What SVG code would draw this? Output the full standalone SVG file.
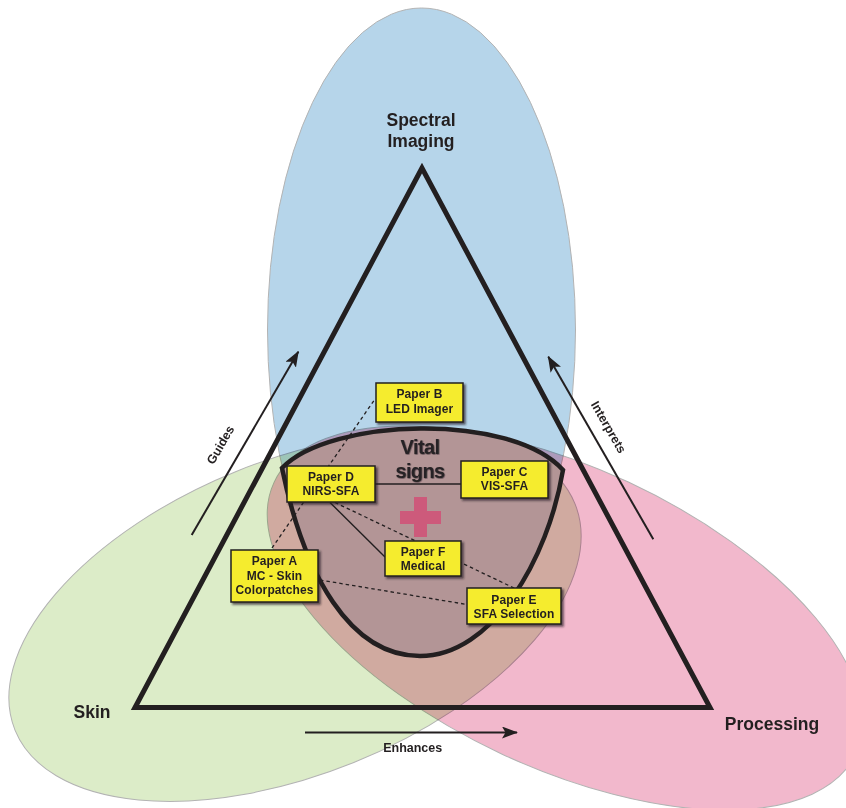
<svg xmlns="http://www.w3.org/2000/svg" width="846" height="808" viewBox="0 0 846 808">
<style>
.ell{stroke:#b3b3b3;stroke-width:1;mix-blend-mode:multiply}
.lbl{font-family:"Liberation Sans",Arial,sans-serif;font-weight:700;fill:#231f20;text-anchor:middle}
.big{font-size:17.5px}
.box rect{fill:#f5ec2e;stroke:#231f20;stroke-width:1.5;filter:url(#sh)}
.box text{font-family:"Liberation Sans",Arial,sans-serif;font-weight:700;font-size:12px;fill:#231f20;text-anchor:middle;letter-spacing:0.1px}
.solid{stroke:#231f20;stroke-width:1.4;fill:none}
.dash{stroke:#231f20;stroke-width:1.3;fill:none;stroke-dasharray:3.5 3}
.arr{stroke:#231f20;stroke-width:2;fill:none;marker-end:url(#ah)}
</style>
<defs>
<filter id="sh" x="-20%" y="-20%" width="150%" height="160%">
<feDropShadow dx="2" dy="2" stdDeviation="1.3" flood-color="#231f20" flood-opacity="0.7"/>
</filter>
<filter id="ts" x="-20%" y="-30%" width="140%" height="160%">
<feDropShadow dx="0.6" dy="0.6" stdDeviation="0.7" flood-color="#231f20" flood-opacity="0.7"/>
</filter>
<marker id="ah" viewBox="0 0 16 12" refX="15" refY="6" markerWidth="16" markerHeight="12" markerUnits="userSpaceOnUse" orient="auto">
<path d="M0,0 L16,6 L0,12 L3.5,6 Z" fill="#231f20"/>
</marker>
</defs>
<rect width="846" height="808" fill="#ffffff"/>
<g id="sets" style="isolation:isolate">
<ellipse id="spectral-imaging-set" class="ell" cx="421.5" cy="330" rx="154" ry="322" fill="#b6d5ea"/>
<ellipse id="skin-set" class="ell" cx="295" cy="617" rx="302" ry="157" transform="rotate(-22 295 617)" fill="#dcecc8"/>
<ellipse id="processing-set" class="ell" cx="565" cy="618" rx="321" ry="150" transform="rotate(25 565 618)" fill="#f2b8cc"/>
</g>
<polygon id="triangle" points="422,168 135,707.5 710,707.5" fill="none" stroke="#231f20" stroke-width="5" stroke-linejoin="miter"/>
<g id="vital-signs">
<path d="M282,468 C330,418 510,412 563,470 C548,560 492,656 420,656 C350,656 304,575 282,468 Z" fill="#b39596" stroke="#231f20" stroke-width="4.5" stroke-linejoin="miter"/>
<g fill="#cd5a7b"><rect x="400" y="511" width="41" height="13"/><rect x="414" y="497" width="13" height="40"/></g>
<g style="font-family:'Liberation Sans',Arial,sans-serif;font-weight:700;font-size:20px;letter-spacing:-0.6px;fill:#282425;text-anchor:middle" filter="url(#ts)"><text x="420" y="454">Vital</text><text x="420" y="478">signs</text></g>
</g>
<g id="connectors">
<line class="dash" x1="272" y1="548" x2="375" y2="399"/>
<line class="dash" x1="320" y1="580" x2="467" y2="604.5"/>
<line class="dash" x1="335" y1="502.5" x2="515" y2="588.5"/>
<line class="solid" x1="375" y1="484" x2="461" y2="484"/>
<line class="solid" x1="330" y1="502.5" x2="385" y2="557"/>
<line id="guides-arrow" class="arr" x1="191.7" y1="535" x2="298.3" y2="351.7"/>
<line id="interprets-arrow" class="arr" x1="653.3" y1="539.3" x2="548.3" y2="356.7"/>
<line id="enhances-arrow" class="arr" x1="305" y1="732.5" x2="517" y2="732.5"/>
</g>
<g id="paper-b" class="box"><rect x="376" y="383" width="87" height="39"/><text x="419.5" y="398">Paper B</text><text x="419.5" y="412.5">LED Imager</text></g>
<g id="paper-d" class="box"><rect x="287" y="466" width="88" height="36"/><text x="331" y="480.5">Paper D</text><text x="331" y="494.5">NIRS-SFA</text></g>
<g id="paper-c" class="box"><rect x="461" y="461" width="87" height="37"/><text x="504.5" y="476">Paper C</text><text x="504.5" y="490">VIS-SFA</text></g>
<g id="paper-f" class="box"><rect x="385" y="541" width="76" height="35"/><text x="423" y="555.5">Paper F</text><text x="423" y="569.5">Medical</text></g>
<g id="paper-e" class="box"><rect x="467" y="588" width="94" height="36"/><text x="514" y="603.5">Paper E</text><text x="514" y="618">SFA Selection</text></g>
<g id="paper-a" class="box"><rect x="231" y="550" width="87" height="52"/><text x="274.5" y="565">Paper A</text><text x="274.5" y="579.5">MC - Skin</text><text x="274.5" y="594">Colorpatches</text></g>
<g id="spectral-imaging"><text class="lbl big" x="421" y="126">Spectral</text><text class="lbl big" x="421" y="147">Imaging</text></g>
<g id="skin"><text class="lbl big" x="92" y="718">Skin</text></g>
<g id="processing"><text class="lbl big" x="772" y="730">Processing</text></g>
<g id="guides"><text class="lbl" style="font-size:12.5px" transform="translate(220.7 445) rotate(-60)" y="4">Guides</text></g>
<g id="interprets"><text class="lbl" style="font-size:12.5px" transform="translate(608.3 427.3) rotate(60)" y="4">Interprets</text></g>
<g id="enhances"><text class="lbl" style="font-size:12.5px" x="412.7" y="751.5">Enhances</text></g>
</svg>
